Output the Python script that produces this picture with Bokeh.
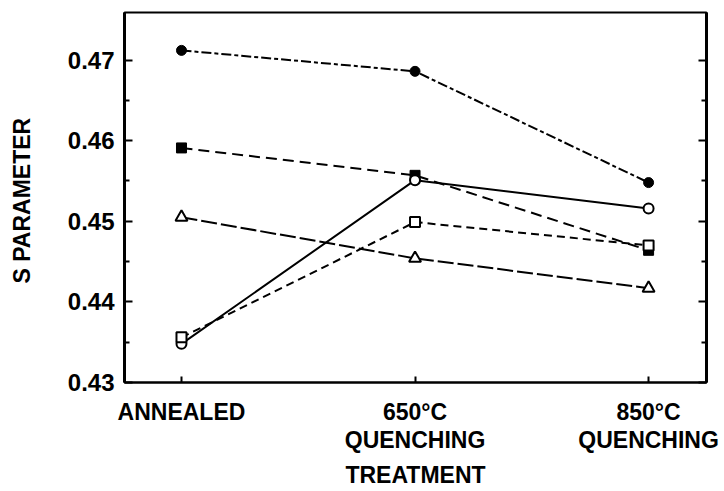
from bokeh.plotting import figure
from bokeh.models import Range1d, FixedTicker, LinearAxis
from bokeh.embed import file_html
from bokeh.resources import INLINE

# Treatments (x categories) and S-parameter values for each sample series
treatments = ["ANNEALED", "650°C\nQUENCHING", "850°C\nQUENCHING"]
x_pos = [0, 1, 2]

s_filled_circle = [0.4712, 0.4686, 0.4548]
s_filled_square = [0.4591, 0.4557, 0.4464]
s_open_circle = [0.4348, 0.4551, 0.4516]
s_open_square = [0.4356, 0.4499, 0.4470]
s_open_triangle = [0.4505, 0.4454, 0.4417]

y_ticks = [0.43, 0.44, 0.45, 0.46, 0.47]
y_minor = [0.435, 0.445, 0.455, 0.465]

FONT = "Liberation Sans"

p = figure(width=724, height=491,
           x_range=Range1d(-0.244, 2.248), y_range=Range1d(0.43, 0.4759),
           output_backend="svg", toolbar_location=None,
           min_border_left=124, min_border_right=18,
           min_border_top=12, min_border_bottom=107)

p.grid.visible = False
p.background_fill_color = "white"
p.border_fill_color = "white"
p.outline_line_color = "black"
p.outline_line_width = 2

# left axis
ya = p.yaxis[0]
ya.ticker = FixedTicker(ticks=y_ticks, minor_ticks=y_minor)
ya.major_label_overrides = {t: f"{t:.2f}" for t in y_ticks}
ya.axis_line_width = 3
ya.major_tick_in = 8
ya.major_tick_out = 0
ya.minor_tick_in = 5
ya.minor_tick_out = 0
ya.major_tick_line_width = 2
ya.minor_tick_line_width = 2
ya.major_label_text_font = FONT
ya.major_label_text_font_style = "bold"
ya.major_label_text_font_size = "24px"
ya.major_label_text_color = "black"
ya.major_label_standoff = 10
ya.axis_label = "S  PARAMETER"
ya.axis_label_text_font = FONT
ya.axis_label_text_font_style = "bold"
ya.axis_label_text_font_size = "23px"
ya.axis_label_text_color = "black"
ya.axis_label_standoff = 30

# right axis: ticks only
ra = LinearAxis(ticker=FixedTicker(ticks=y_ticks, minor_ticks=y_minor))
ra.axis_line_width = 3
ra.major_tick_in = 8
ra.major_tick_out = 0
ra.minor_tick_in = 5
ra.minor_tick_out = 0
ra.major_tick_line_width = 2
ra.minor_tick_line_width = 2
ra.major_label_overrides = {t: "" for t in y_ticks}
ra.major_label_standoff = 0
p.add_layout(ra, "right")

# bottom axis: one tick per treatment, two-line labels
xa = p.xaxis[0]
xa.ticker = FixedTicker(ticks=x_pos, minor_ticks=[])
xa.major_label_overrides = {x: t for x, t in zip(x_pos, treatments)}
xa.axis_line_width = 2
xa.major_tick_in = 6
xa.major_tick_out = 0
xa.major_tick_line_width = 2
xa.major_label_text_font = FONT
xa.major_label_text_font_style = "bold"
xa.major_label_text_font_size = "23px"
xa.major_label_text_color = "black"
xa.major_label_text_line_height = 1.1
xa.major_label_standoff = 16
xa.axis_label = "TREATMENT"
xa.axis_label_text_font = FONT
xa.axis_label_text_font_style = "bold"
xa.axis_label_text_font_size = "23px"
xa.axis_label_text_color = "black"
xa.axis_label_standoff = 6

lw = 2
p.line(x_pos, s_filled_circle, line_color="black", line_width=lw, line_dash="10 3 4 3")
p.line(x_pos, s_filled_square, line_color="black", line_width=lw, line_dash="11 6")
p.line(x_pos, s_open_circle, line_color="black", line_width=lw)
p.line(x_pos, s_open_square, line_color="black", line_width=lw, line_dash="8 5")
p.line(x_pos, s_open_triangle, line_color="black", line_width=lw, line_dash="16 4")

p.scatter(x_pos, s_filled_circle, marker="circle", size=10, fill_color="black", line_color="black")
p.scatter(x_pos, s_filled_square, marker="square", size=10, fill_color="black", line_color="black")
p.scatter(x_pos, s_open_circle, marker="circle", size=10, fill_color="white", line_color="black", line_width=2)
p.scatter(x_pos, s_open_square, marker="square", size=10, fill_color="white", line_color="black", line_width=2)
p.scatter(x_pos, s_open_triangle, marker="triangle", size=12, fill_color="white", line_color="black", line_width=2)

open("out.html", "w").write(file_html(p, INLINE))
